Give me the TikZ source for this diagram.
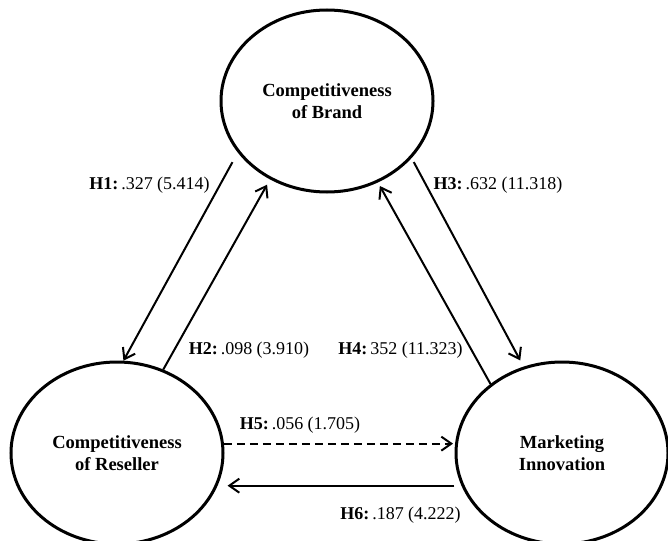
\documentclass[tikz,border=0pt]{standalone}
\usepackage{fontspec}
\setmainfont{Liberation Serif}
\usetikzlibrary{shapes.geometric,arrows.meta}
\begin{document}
\begin{tikzpicture}[x=1pt,y=-1pt,
  construct/.style={ellipse,draw,line width=3pt,minimum width=212pt,minimum height=182pt,inner sep=0pt,align=center,font=\fontsize{18.5}{22}\selectfont\bfseries},
  arr/.style={line width=2pt,-{Straight Barb[length=10pt,width=14pt]}},
  dasharr/.style={arr,dash pattern=on 8pt off 5pt},
  lab/.style={font=\fontsize{18}{22}\selectfont,inner sep=0pt}]
\clip (0,0) rectangle (668,540);
\node[construct] (brand) at (327,101) {Competitiveness\\of Brand};
\node[construct] (reseller) at (117,453) {Competitiveness\\of Reseller};
\node[construct] (innov) at (562,453) {Marketing\\Innovation};
% H1
\draw[arr,shorten <=11pt] (brand.210) -- (reseller.86);
% H2
\draw[arr,shorten >=6pt] (reseller.61) -- (brand.234);
% H3
\draw[arr,shorten <=4.5pt,shorten >=7pt] (brand.326) -- (innov.114);
% H4
\draw[arr,shorten >=4pt] (innov.136) -- (brand.302);
% H5
\draw[dasharr,shorten >=2pt] (reseller.5) -- (innov.175);
% H6
\draw[arr,shorten <=7pt,shorten >=10pt] (innov.198) -- (reseller.342);
% labels
\node[lab] (l1) at (149.5,185) {\textbf{H1:}\,.327 (5.414)};
\node[lab] (l2) at (249,350) {\textbf{H2:}\,.098 (3.910)};
\node[lab] (l3) at (498,185) {\textbf{H3:}\,.632 (11.318)};
\node[lab] (l4) at (400.5,350) {\textbf{H4:}\,352 (11.323)};
\node[lab] (l5) at (300,425) {\textbf{H5:}\,.056 (1.705)};
\node[lab] (l6) at (400.5,515) {\textbf{H6:}\,.187 (4.222)};
\end{tikzpicture}
\end{document}
